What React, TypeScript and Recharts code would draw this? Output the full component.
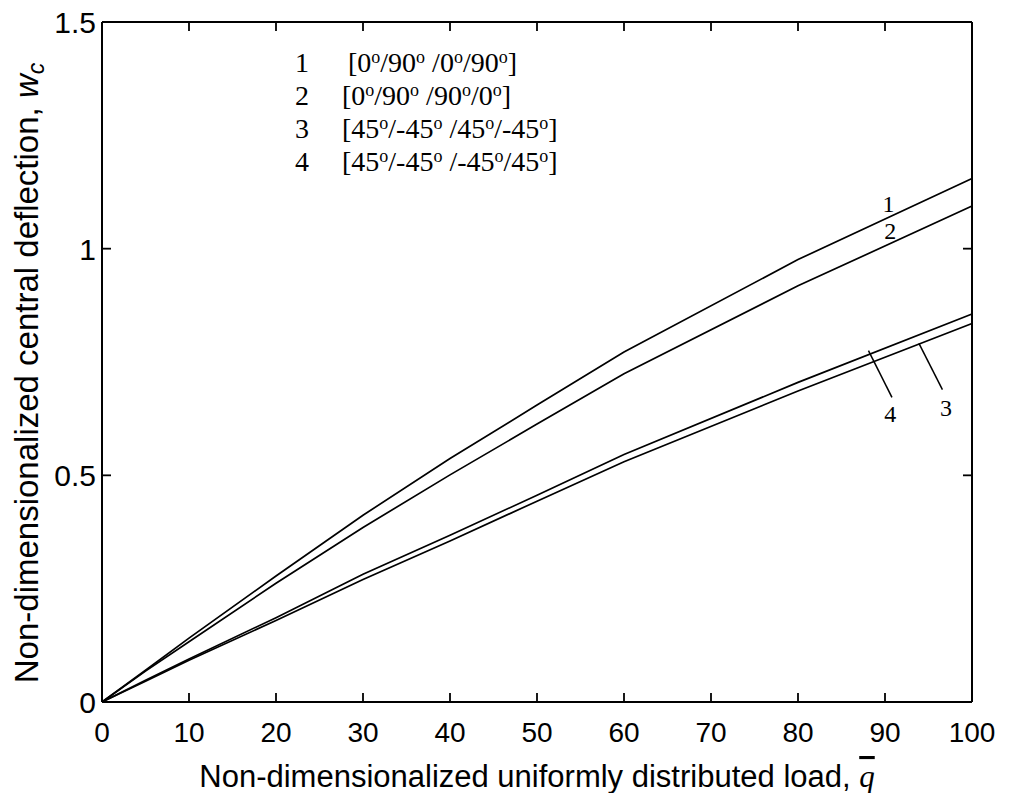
import { Legend, Line, LineChart, ReferenceDot, ReferenceLine, XAxis, YAxis } from "recharts";

// load q (x) and central deflection w_c (y) for each lay-up
const q = [0, 5, 10, 20, 30, 40, 50, 60, 80, 100];
const w1 = [0, 0.07, 0.141, 0.278, 0.412, 0.537, 0.655, 0.772, 0.976, 1.155];
const w2 = [0, 0.068, 0.133, 0.262, 0.385, 0.501, 0.613, 0.724, 0.918, 1.094];
const w3 = [0, 0.046, 0.092, 0.18, 0.27, 0.355, 0.443, 0.53, 0.686, 0.835];
const w4 = [0, 0.048, 0.095, 0.186, 0.282, 0.368, 0.456, 0.546, 0.705, 0.856];

const layups = [
  [0, 90, 0, 90],
  [0, 90, 90, 0],
  [45, -45, 45, -45],
  [45, -45, -45, 45],
];
const seriesKeys = ["w1", "w2", "w3", "w4"];

const xTicks = [0, 10, 20, 30, 40, 50, 60, 70, 80, 90, 100];
const yTicks = [0, 0.5, 1, 1.5];
const X_MAX = 100;
const Y_MAX = 1.5;

const data = q.map((v, i) => ({ q: v, w1: w1[i], w2: w2[i], w3: w3[i], w4: w4[i] }));

const sans = "'Liberation Sans', Arial, sans-serif";
const serif = "'Liberation Serif', 'Times New Roman', serif";
const TICK = 9;

// layout
const W = 1010;
const H = 793;
const margin = { top: 21, right: 37, bottom: 0, left: 42 };
const X_AXIS_H = 91;
const Y_AXIS_W = 60;
const PLOT_W = W - margin.left - margin.right - Y_AXIS_W - 1;

function BottomTick({ x, y, payload }: any) {
  return (
    <g>
      <line x1={x} x2={x} y1={y} y2={y - TICK} stroke="#000" strokeWidth={1.8} />
      <text x={x} y={y + 40} textAnchor="middle" fontFamily={sans} fontSize={28} fill="#000">
        {payload.value}
      </text>
    </g>
  );
}

// left tick: inward tick, mirrored tick on the right edge (and the top-edge ticks on the last one), label
function LeftTick({ x, y, payload }: any) {
  const last = payload.value === yTicks[yTicks.length - 1];
  const edge = payload.value === yTicks[0] || last;
  return (
    <g>
      <line x1={x} x2={x + TICK} y1={y} y2={y} stroke="#000" strokeWidth={1.8} />
      {!edge && <line x1={x + PLOT_W} x2={x + PLOT_W - TICK} y1={y} y2={y} stroke="#000" strokeWidth={1.8} />}
      {last &&
        xTicks.slice(1, -1).map((t) => {
          const tx = x + (PLOT_W * t) / X_MAX;
          return <line key={t} x1={tx} x2={tx} y1={y} y2={y + TICK} stroke="#000" strokeWidth={1.8} />;
        })}
      <text x={x - 6} y={y + 11} textAnchor="end" fontFamily={sans} fontSize={30} fill="#000">
        {payload.value}
      </text>
    </g>
  );
}

function XTitle({ viewBox }: any) {
  const cx = viewBox.x + viewBox.width / 2;
  return (
    <text x={cx} y={viewBox.y + 85} textAnchor="middle" fontFamily={sans} fontSize={31} fill="#000">
      Non-dimensionalized uniformly distributed load,{" "}
      <tspan fontFamily={serif} fontStyle="italic" style={{ textDecoration: "overline" }}>
        q
      </tspan>
    </text>
  );
}

function YTitle({ viewBox }: any) {
  const x = 38;
  const y = viewBox.y + viewBox.height / 2 + 11;
  return (
    <text
      x={x}
      y={y}
      transform={`rotate(-90 ${x} ${y})`}
      textAnchor="middle"
      fontFamily={sans}
      fontSize={33}
      fill="#000"
    >
      Non-dimensionalized central deflection,{" "}
      <tspan fontStyle="italic">w</tspan>
      <tspan fontStyle="italic" fontSize={23} dy={6}>
        c
      </tspan>
    </text>
  );
}

function LegendBox() {
  return (
    <div style={{ fontFamily: serif, fontSize: 28, lineHeight: "33px", color: "#000" }}>
      {layups.map((angles, i) => (
        <div key={i} style={{ display: "flex", height: 33 }}>
          <span style={{ width: i === 0 ? 53 : 47 }}>{i + 1}</span>
          <span>
            [
            {angles.map((a, j) => (
              <span key={j}>
                {j > 0 ? "/" : ""}
                {a}
                <sup style={{ fontSize: 18, lineHeight: 0, verticalAlign: "9px" }}>o</sup>
                {j === 1 ? " " : ""}
              </span>
            ))}
            ]
          </span>
        </div>
      ))}
    </div>
  );
}

const curveLabels = [
  { text: "1", x: 90.4, y: 1.1 },
  { text: "2", x: 90.6, y: 1.04 },
  { text: "4", x: 90.6, y: 0.636 },
  { text: "3", x: 97.0, y: 0.65 },
];
const leaders = [
  [
    { x: 88.1, y: 0.775 },
    { x: 90.8, y: 0.672 },
  ],
  [
    { x: 93.9, y: 0.791 },
    { x: 96.6, y: 0.689 },
  ],
];

export default function App() {
  return (
    <div style={{ position: "absolute", left: 0, top: 0, background: "#fff" }}>
      <LineChart width={W} height={H} data={data} margin={margin}>
        <XAxis
          xAxisId="b"
          dataKey="q"
          type="number"
          domain={[0, X_MAX]}
          ticks={xTicks}
          interval={0}
          height={X_AXIS_H}
          tickSize={0}
          tickMargin={0}
          tickLine={false}
          tick={<BottomTick />}
          axisLine={{ stroke: "#000", strokeWidth: 2 }}
          label={<XTitle />}
        />
        <XAxis
          xAxisId="t"
          type="number"
          orientation="top"
          domain={[0, X_MAX]}
          height={1}
          tick={false}
          tickLine={false}
          axisLine={{ stroke: "#000", strokeWidth: 2 }}
        />
        <YAxis
          yAxisId="l"
          type="number"
          domain={[0, Y_MAX]}
          ticks={yTicks}
          interval={0}
          width={Y_AXIS_W}
          tickSize={0}
          tickMargin={0}
          tickLine={false}
          tick={<LeftTick />}
          axisLine={{ stroke: "#000", strokeWidth: 2 }}
          label={<YTitle />}
        />
        <YAxis
          yAxisId="r"
          orientation="right"
          type="number"
          domain={[0, Y_MAX]}
          width={1}
          tick={false}
          tickLine={false}
          axisLine={{ stroke: "#000", strokeWidth: 2 }}
        />
        <Legend
          layout="horizontal"
          verticalAlign="middle"
          align="center"
          content={<LegendBox />}
          wrapperStyle={{ position: "absolute", left: 295, top: 46, width: "auto" }}
        />
        {seriesKeys.map((k) => (
          <Line
            key={k}
            xAxisId="b"
            yAxisId="l"
            dataKey={k}
            type="linear"
            stroke="#000"
            strokeWidth={1.7}
            dot={false}
            isAnimationActive={false}
          />
        ))}
        {leaders.map((seg, i) => (
          <ReferenceLine
            key={i}
            xAxisId="b"
            yAxisId="l"
            segment={seg}
            stroke="#000"
            strokeWidth={1.5}
            ifOverflow="visible"
          />
        ))}
        {curveLabels.map((l) => (
          <ReferenceDot
            key={l.text}
            xAxisId="b"
            yAxisId="l"
            x={l.x}
            y={l.y}
            r={0}
            ifOverflow="visible"
            label={{ value: l.text, position: "center", fontFamily: serif, fontSize: 24, fill: "#000" }}
          />
        ))}
      </LineChart>
    </div>
  );
}
